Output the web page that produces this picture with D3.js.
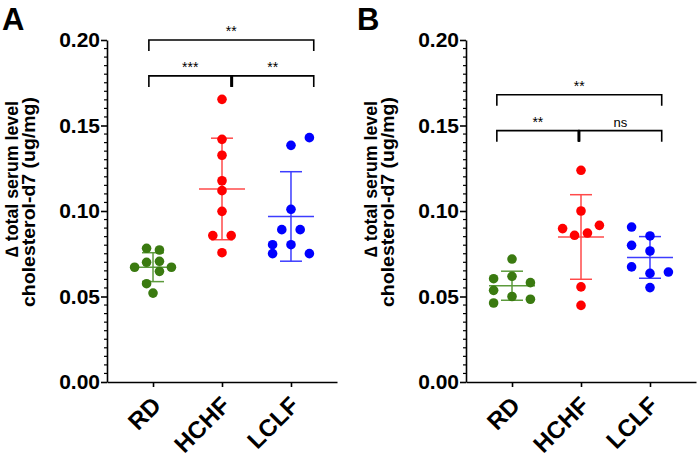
<!DOCTYPE html>
<html><head><meta charset="utf-8">
<script src="https://cdn.jsdelivr.net/npm/d3@7"></script>
<style>body{margin:0;background:#fff}svg{display:block}text{font-family:"Liberation Sans",Arial,sans-serif}</style>
</head><body>
<svg id="c" width="700" height="459"></svg>
<script>
const categories = ["RD","HCHF","LCLF"];
const yTicks = [0, 0.05, 0.10, 0.15, 0.20];
const yTickLabels = ["0.00","0.05","0.10","0.15","0.20"];
// Panel A values (ug/mg) and swarm slots
const A_RD   = [0.0782,0.0772,0.0700,0.0706,0.0671,0.0671,0.0647,0.0575,0.0520];
const A_RD_slot = [-0.7,0.7,-0.7,0.7,-2,2,0.7,-0.7,0];
const A_HCHF = [0.1653,0.1419,0.1326,0.1177,0.1119,0.0998,0.0856,0.0856,0.0756];
const A_HCHF_slot = [0,0,0,0,0,0,-1,1,0];
const A_LCLF = [0.1429,0.1384,0.1010,0.0891,0.0891,0.0803,0.0803,0.0751,0.0751];
const A_LCLF_slot = [2,0,0,-1,1,-2,0,-2,2];
// Panel B
const B_RD   = [0.0719,0.0604,0.0618,0.0581,0.0536,0.0500,0.0462,0.0484];
const B_RD_slot = [0,-2,0,2,-2,0,-2,2];
const B_HCHF = [0.1238,0.1000,0.0897,0.0916,0.0858,0.0871,0.0556,0.0448];
const B_HCHF_slot = [0,0,-2,2,-0.7,0.7,0,0];
const B_LCLF = [0.0906,0.0854,0.0799,0.0766,0.0673,0.0635,0.0643,0.0552];
const B_LCLF_slot = [-2,0,-2,0,-2,0,2,0];
// significance brackets: [from index, to index, label, level(y value)]
const A_brackets = [[-0.06,2.33,"**",0.200],[-0.06,1.14,"***",0.179],[1.14,2.33,"**",0.179]];
const B_brackets = [[-0.22,2.17,"**",0.168],[-0.22,0.97,"**",0.147],[0.97,2.17,"ns",0.147]];
const colors = ["#3a7a10","#ff0000","#0000ff"];
const barColors = ["#5c9a3c","#ff4a4a","#3c3cff"];

const svg = d3.select("#c");

function panel(opts){
  const g = svg.append("g");
  const y = d3.scaleLinear().domain([0,0.2]).range([382,40]);
  const x = d3.scaleLinear().domain([-0.667,2.667]).range([opts.x0, opts.x0+230]);
  const step = 9.2;
  // y axis
  const yAxis = d3.axisLeft(y).tickValues(yTicks).tickFormat((d,i)=>yTickLabels[i]).tickSize(6).tickSizeOuter(0);
  const ya = g.append("g").attr("transform",`translate(${opts.x0},0)`).call(yAxis);
  ya.select(".domain").attr("stroke","#000").attr("stroke-width",1.6);
  ya.selectAll(".tick line").attr("stroke-width",1.6);
  ya.selectAll(".tick text").attr("font-size",21).attr("font-weight","bold").attr("x",-7).attr("fill","#000");
  const minor = d3.range(0,0.2001,0.005).filter(v=>Math.abs(v/0.05-Math.round(v/0.05))>1e-6);
  g.append("g").selectAll("line").data(minor).join("line")
    .attr("x1",opts.x0-3).attr("x2",opts.x0).attr("y1",d=>y(d)).attr("y2",d=>y(d))
    .attr("stroke","#000").attr("stroke-width",1.2);
  // x axis
  const xa = g.append("g").attr("transform",`translate(0,${y(0)})`)
    .call(d3.axisBottom(x).tickValues([0,1,2]).tickFormat(i=>categories[i]).tickSize(5).tickSizeOuter(0));
  xa.select(".domain").attr("stroke-width",1.6);
  xa.selectAll(".tick line").attr("stroke-width",1.6);
  xa.selectAll(".tick text").attr("font-size",24).attr("font-weight","bold").attr("fill","#000")
    .attr("text-anchor","end").attr("y",0).attr("dy",0)
    .attr("transform","translate(9,25) rotate(-45)");
  // y title
  const tt = g.append("g").attr("transform",`translate(${opts.x0-89},${211}) rotate(-90)`);
  tt.append("text").attr("x",32).attr("y",0).attr("text-anchor","middle").attr("font-size",18).attr("font-weight","bold")
    .attr("textLength",156).attr("lengthAdjust","spacingAndGlyphs").text("\u2206 total serum level");
  tt.append("text").attr("x",9).attr("y",17).attr("text-anchor","middle").attr("font-size",18).attr("font-weight","bold")
    .attr("textLength",210).attr("lengthAdjust","spacingAndGlyphs").text("cholesterol-d7 (ug/mg)");
  // panel letter
  g.append("text").attr("x",opts.letterX).attr("y",30).attr("font-size",31).attr("font-weight","bold").text(opts.letter);
  // groups
  opts.groups.forEach((grp,gi)=>{
    const vals = grp.v, m = d3.mean(vals), sd = d3.deviation(vals);
    const cx = x(gi);
    const eb = g.append("g").attr("stroke",barColors[gi]).attr("stroke-width",1.5);
    eb.append("line").attr("x1",cx).attr("x2",cx).attr("y1",y(m-sd)).attr("y2",y(m+sd));
    eb.append("line").attr("x1",cx-23).attr("x2",cx+23).attr("y1",y(m)).attr("y2",y(m));
    [m-sd,m+sd].forEach(v=>eb.append("line").attr("x1",cx-11).attr("x2",cx+11).attr("y1",y(v)).attr("y2",y(v)));
    g.append("g").selectAll("circle").data(vals).join("circle")
      .attr("cx",(d,i)=>cx+grp.s[i]*step).attr("cy",d=>y(d)).attr("r",4.8).attr("fill",colors[gi]);
  });
  // brackets
  opts.brackets.forEach(b=>{
    const x1=x(b[0]), x2=x(b[1]), yy=y(b[3]), h=11;
    const bg=g.append("g").attr("stroke","#000").attr("stroke-width",1.6).attr("fill","none");
    bg.append("path").attr("d",`M${x1},${yy+h}V${yy}H${x2}V${yy+h}`);
    g.append("text").attr("x",(x1+x2)/2).attr("y",yy-4).attr("text-anchor","middle")
      .attr("font-size",b[2]==="ns"?13:14).attr("fill","#000").text(b[2]);
  });
  // thick middle ticks of lower brackets
  const lower = opts.brackets.filter(b=>b[3]<opts.brackets[0][3]);
  g.append("line").attr("x1",x(lower[0][1])).attr("x2",x(lower[0][1])).attr("y1",y(lower[0][3]))
    .attr("y2",y(lower[0][3])+11).attr("stroke","#000").attr("stroke-width",3);
}

panel({x0:107, letter:"A", letterX:2, brackets:A_brackets,
  groups:[{v:A_RD,s:A_RD_slot},{v:A_HCHF,s:A_HCHF_slot},{v:A_LCLF,s:A_LCLF_slot}]});
panel({x0:466, letter:"B", letterX:357, brackets:B_brackets,
  groups:[{v:B_RD,s:B_RD_slot},{v:B_HCHF,s:B_HCHF_slot},{v:B_LCLF,s:B_LCLF_slot}]});
</script>
</body></html>
